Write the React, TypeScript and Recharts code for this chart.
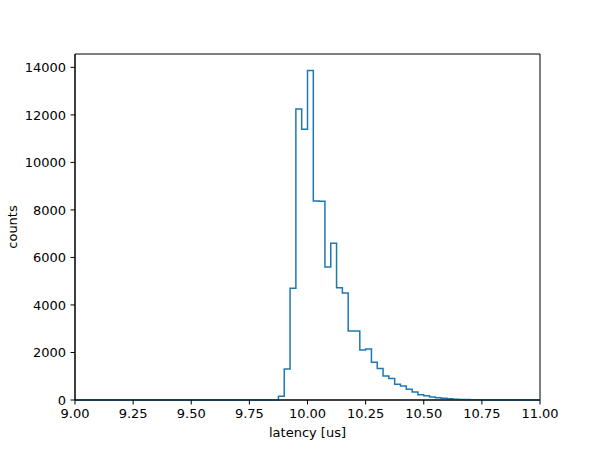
import { Line, LineChart, ReferenceArea, XAxis, YAxis } from "recharts";

// histogram: 80 bins of 0.025 us between 9.00 and 11.00
const binStart = 9.0;
const binWidth = 0.025;
const counts = [
  0, 0, 0, 0, 0, 0, 0, 0, 0, 0,
  0, 0, 0, 0, 0, 0, 0, 0, 0, 0,
  0, 0, 0, 0, 0, 0, 0, 0, 0, 0,
  0, 0, 0, 0, 0, 160, 1300, 4700, 12250, 11400,
  13870, 8380, 8370, 5600, 6600, 4720, 4500, 2900, 2900, 2100,
  2150, 1585, 1330, 1010, 910, 660, 590, 450, 335, 225,
  180, 125, 95, 70, 50, 35, 25, 17, 11, 7,
  4, 2, 1, 0, 0, 0, 0, 0, 0, 0,
];
const xTicks = [9.0, 9.25, 9.5, 9.75, 10.0, 10.25, 10.5, 10.75, 11.0];
const yTicks = [0, 2000, 4000, 6000, 8000, 10000, 12000, 14000];

const peak = Math.max(...counts);
const yMax = peak * 1.05;

// step outline: each bin's left edge carries its count, plus the closing edge
const data = counts
  .map((c, i) => ({ x: binStart + i * binWidth, y: c }))
  .concat([{ x: binStart + counts.length * binWidth, y: counts[counts.length - 1] }]);

const font = "DejaVu Sans";
const tickStyle = { fill: "#000", fontSize: 13, fontFamily: font };

export default function App() {
  return (
    <div style={{ position: "absolute", left: 0, top: 0, background: "#fff" }}>
      <LineChart width={600} height={450} data={data} margin={{ top: 54, right: 60, bottom: 0, left: 0 }}>
        <XAxis
          dataKey="x"
          type="number"
          domain={[9, 11]}
          ticks={xTicks}
          tickFormatter={(v: number) => v.toFixed(2)}
          interval={0}
          height={50}
          tick={tickStyle}
          tickSize={4.5}
          tickMargin={4}
          stroke="#000"
          label={{
            content: () => (
              <text x={307.5} y={437} textAnchor="middle" fontSize={13} fontFamily={font} fill="#000">
                latency [us]
              </text>
            ),
          }}
        />
        <YAxis
          type="number"
          domain={[0, yMax]}
          ticks={yTicks}
          interval={0}
          width={75}
          tick={tickStyle}
          tickSize={4.5}
          tickMargin={4.5}
          stroke="#000"
          label={{
            content: () => (
              <text
                x={17}
                y={227}
                transform="rotate(-90 17 227)"
                textAnchor="middle"
                fontSize={13}
                fontFamily={font}
                fill="#000"
              >
                counts
              </text>
            ),
          }}
        />
        <ReferenceArea x1={9} x2={11} y1={0} y2={yMax} fill="none" stroke="#000" strokeWidth={1} />
        <Line
          type="stepAfter"
          dataKey="y"
          stroke="#1f77b4"
          strokeWidth={1.5}
          dot={false}
          activeDot={false}
          isAnimationActive={false}
        />
      </LineChart>
    </div>
  );
}
